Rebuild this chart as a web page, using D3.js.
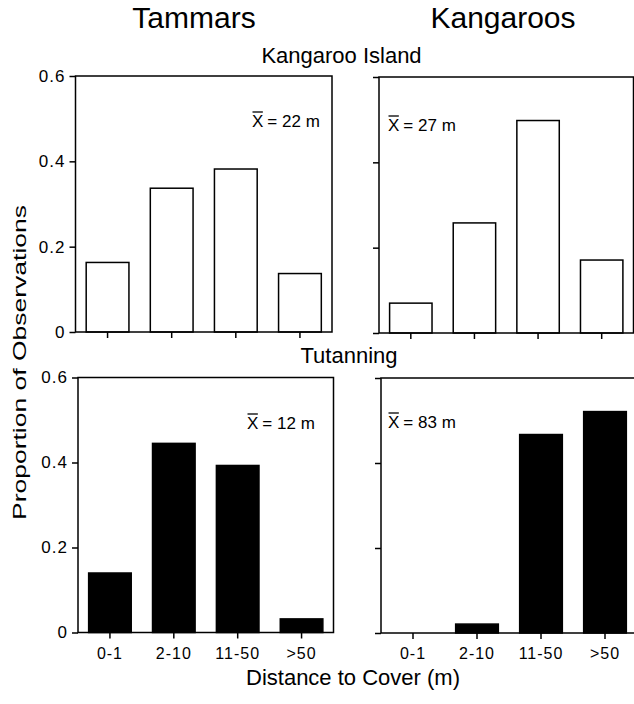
<!DOCTYPE html>
<html>
<head>
<meta charset="utf-8">
<script src="https://cdn.jsdelivr.net/npm/d3@7"></script>
<style>
  html, body { margin: 0; padding: 0; background: #fff; }
  svg { display: block; font-family: "Liberation Sans", Arial, Helvetica, sans-serif; }
</style>
</head>
<body>
<svg id="chart" width="634" height="704"></svg>
<script>
// ---- data ----
const categories = ["0-1", "2-10", "11-50", ">50"];
const kiTammars   = [0.163, 0.337, 0.382, 0.137];
const kiKangaroos = [0.070, 0.258, 0.498, 0.171];
const tuTammars   = [0.140, 0.445, 0.393, 0.032];
const tuKangaroos = [0.000, 0.021, 0.467, 0.521];
const yTicks = [0, 0.2, 0.4, 0.6];
const yTickLabels = ["0", "0.2", "0.4", "0.6"];
const meanLabels = ["22 m", "27 m", "12 m", "83 m"];
const columnTitles = ["Tammars", "Kangaroos"];
const rowTitles = ["Kangaroo Island", "Tutanning"];

// ---- layout ----
const svg = d3.select("#chart");
const panels = [
  { values: kiTammars,   x0: 75.5, x1: 332,  y0: 76,    y1: 332,   fill: "#fff", yLabels: true,  xLabels: false, mean: meanLabels[0], mx: 252, my: 127 },
  { values: kiKangaroos, x0: 379,  x1: 633.5,y0: 77,    y1: 333,   fill: "#fff", yLabels: false, xLabels: false, mean: meanLabels[1], mx: 388, my: 131 },
  { values: tuTammars,   x0: 78,   x1: 333.5,y0: 377.5, y1: 632.5, fill: "#000", yLabels: true,  xLabels: true,  mean: meanLabels[2], mx: 247, my: 429 },
  { values: tuKangaroos, x0: 381,  x1: 637,  y0: 378,   y1: 633,   fill: "#000", yLabels: false, xLabels: true,  mean: meanLabels[3], mx: 388, my: 428 }
];

panels.forEach(p => {
  const x = d3.scaleBand().domain(categories).range([p.x0, p.x1]).paddingInner(1/3).paddingOuter(1/6);
  const y = d3.scaleLinear().domain([0, 0.6]).range([p.y1, p.y0]);
  const g = svg.append("g");

  // bars
  g.selectAll("rect.bar").data(p.values).join("rect")
    .attr("class", "bar")
    .attr("x", (d, i) => x(categories[i]))
    .attr("width", x.bandwidth())
    .attr("y", d => y(d))
    .attr("height", d => y(0) - y(d))
    .attr("fill", p.fill)
    .attr("stroke", "#000")
    .attr("stroke-width", 1.5);

  // frame
  g.append("rect")
    .attr("x", p.x0).attr("y", p.y0)
    .attr("width", p.x1 - p.x0).attr("height", p.y1 - p.y0)
    .attr("fill", "none").attr("stroke", "#000").attr("stroke-width", 1.5);

  // y axis
  const ya = d3.axisLeft(y).tickValues(yTicks).tickSize(6).tickSizeOuter(0).tickPadding(4)
    .tickFormat((d, i) => p.yLabels ? yTickLabels[i] : "");
  const yg = g.append("g").attr("transform", `translate(${p.x0},0)`).call(ya);
  yg.select(".domain").remove();
  yg.selectAll("line").attr("stroke", "#000").attr("stroke-width", 1.5);
  yg.selectAll("text").attr("font-size", 17).attr("letter-spacing", "1px")
    .attr("fill", "#000").attr("font-family", "Liberation Sans, Arial, sans-serif");

  // x axis
  const xa = d3.axisBottom(x).tickSize(6).tickSizeOuter(0).tickPadding(9)
    .tickFormat(d => p.xLabels ? d : "");
  const xg = g.append("g").attr("transform", `translate(0,${p.y1})`).call(xa);
  xg.select(".domain").remove();
  xg.selectAll("line").attr("stroke", "#000").attr("stroke-width", 1.5);
  xg.selectAll("text").attr("font-size", 16).attr("letter-spacing", "1px")
    .attr("fill", "#000").attr("font-family", "Liberation Sans, Arial, sans-serif");

  // mean annotation with overbar
  const xt = g.append("text").attr("x", p.mx).attr("y", p.my)
    .attr("font-size", 17).attr("fill", "#000").text("X");
  const bb = xt.node().getBBox();
  g.append("line")
    .attr("x1", bb.x + 0.5).attr("x2", bb.x + bb.width - 0.5)
    .attr("y1", p.my - 15).attr("y2", p.my - 15)
    .attr("stroke", "#000").attr("stroke-width", 1.3);
  g.append("text").attr("x", bb.x + bb.width + 4).attr("y", p.my)
    .attr("font-size", 17).attr("fill", "#000").text("= " + p.mean);
});

// titles
svg.append("text").attr("x", 194).attr("y", 28).attr("text-anchor", "middle")
  .attr("font-size", 30).text(columnTitles[0]);
svg.append("text").attr("x", 503).attr("y", 28).attr("text-anchor", "middle")
  .attr("font-size", 30).text(columnTitles[1]);
svg.append("text").attr("x", 341.5).attr("y", 63).attr("text-anchor", "middle")
  .attr("font-size", 22).text(rowTitles[0]);
svg.append("text").attr("x", 349).attr("y", 363).attr("text-anchor", "middle")
  .attr("font-size", 22).text(rowTitles[1]);

// axis titles
svg.append("text").attr("transform", "translate(26,362.5) rotate(-90)")
  .attr("text-anchor", "middle").attr("font-size", 19)
  .attr("textLength", 315).attr("lengthAdjust", "spacingAndGlyphs")
  .text("Proportion of Observations");
svg.append("text").attr("x", 353).attr("y", 685).attr("text-anchor", "middle")
  .attr("font-size", 22).text("Distance to Cover (m)");
</script>
</body>
</html>
